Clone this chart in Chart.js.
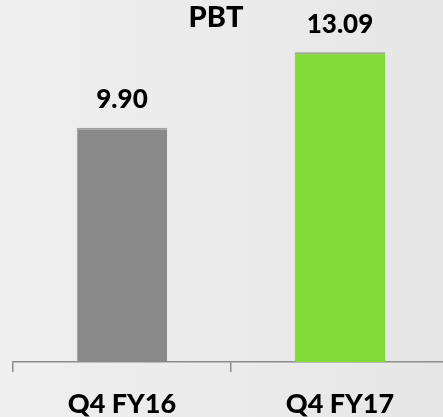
<!DOCTYPE html>
<html>
<head>
<meta charset="utf-8">
<script src="https://cdn.jsdelivr.net/npm/chart.js@4/dist/chart.umd.min.js"></script>
<style>
  html, body { margin: 0; padding: 0; overflow: hidden; }
  body {
    width: 443px; height: 417px;
    background: linear-gradient(90deg, #efefef 0%, #ebebeb 50%, #e6e6e6 100%);
  }
  #wrap { position: absolute; left: 0; top: 0; width: 470px; height: 417px; }
</style>
</head>
<body>
<div id="wrap"><canvas id="chart" width="470" height="417"></canvas></div>
<script>
const categories = ['Q4 FY16', 'Q4 FY17'];
const pbtValues = [9.90, 13.09];
const valueLabels = ['9.90', '13.09'];
const barColors = ['#898989', '#80db39'];
const barEdgeColors = ['#a2a2a2', '#97a88c'];
const chartTitle = 'PBT';

const FONT = 'Lato, "Open Sans", sans-serif';

// title and value labels above each bar
const labelPlugin = {
  id: 'labels',
  afterDatasetsDraw(chart) {
    const ctx = chart.ctx;
    ctx.save();
    ctx.fillStyle = '#000';
    ctx.textAlign = 'center';
    ctx.textBaseline = 'middle';
    ctx.font = '900 29px ' + FONT;
    ctx.fillText(chartTitle, 216, 18);
    ctx.font = '900 26px ' + FONT;
    chart.getDatasetMeta(0).data.forEach((bar, i) => {
      ctx.fillText(valueLabels[i], bar.x, bar.y - 28);
    });
    ctx.restore();
  }
};

new Chart(document.getElementById('chart'), {
  type: 'bar',
  data: {
    labels: categories,
    datasets: [{
      data: pbtValues,
      backgroundColor: barColors,
      borderColor: barEdgeColors,
      borderWidth: { top: 2, left: 1, right: 0, bottom: 0 },
      borderSkipped: 'bottom',
      categoryPercentage: 0.83,
      barPercentage: 0.5
    }]
  },
  options: {
    responsive: false,
    animation: false,
    layout: { padding: { left: 13, right: 21, top: 7, bottom: 0 } },
    plugins: { legend: { display: false }, tooltip: { enabled: false } },
    scales: {
      y: { display: false, min: 0, max: 15 },
      x: {
        afterFit(scale) { scale.height = 55; },
        border: { display: true, color: '#8c8c8c', width: 1.5 },
        grid: {
          display: true, offset: true, drawOnChartArea: false,
          drawTicks: true, tickLength: 10, color: '#8c8c8c', lineWidth: 1.5
        },
        ticks: {
          color: '#000', padding: 16,
          font: { family: FONT, weight: 900, size: 27 }
        }
      }
    }
  },
  plugins: [labelPlugin]
});
</script>
</body>
</html>
